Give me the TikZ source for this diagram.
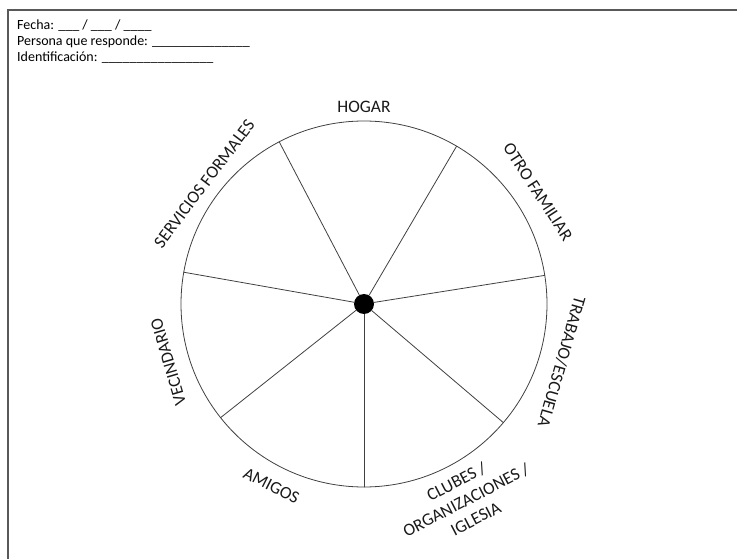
\documentclass[tikz,border=0pt]{standalone}
\usepackage{fontspec}
\setmainfont{Carlito}
\usepackage{tikz}

\tikzset{
  sector/.style={font=\fontsize{17.5}{21}\selectfont, text=black!90, align=center, inner sep=1pt},
  wheel/.style={black!75, line width=0.8pt},
  formline/.style={anchor=base west, inner sep=0pt, font=\fontsize{14}{16}\selectfont},
}

\begin{document}
\begin{tikzpicture}[x=1pt, y=1pt, line cap=round]
  \useasboundingbox (0,0) rectangle (737,558);
  \draw[line width=2pt, black!65] (8,-10) rectangle (750,548);
  \node[formline] (fecha) at (17,528) {Fecha: \_\_\_ / \_\_\_ / \_\_\_\_};
  \node[formline] (persona) at (17,512) {Persona que responde: \_\_\_\_\_\_\_\_\_\_\_\_\_\_};
  \node[formline] (ident) at (17,496) {Identificación: \_\_\_\_\_\_\_\_\_\_\_\_\_\_\_\_};
  \begin{scope}[shift={(364,254)}]
    \draw[wheel] (0,0) circle (183pt);
    \node[circle, fill=black, minimum size=20pt, inner sep=0pt] (hub) at (0,0) {};
    \foreach \a [count=\i] in {9, 59.6, 117.6, 170, 218.4, 270, 319.6}
      { \coordinate (rim\i) at (\a:183); \draw[wheel] (hub) -- (rim\i); }
    \node[sector] (hogar) at (90:197) {HOGAR};
    \node[sector, rotate=-57] (familiar) at (32.8:207) {OTRO FAMILIAR};
    \node[sector, rotate=-106] (trabajo) at (-16.3:206) {TRABAJO/ESCUELA};
    \node[sector, rotate=27.5] (clubes) at (-62.5:221) {CLUBES /\\ ORGANIZACIONES /\\ IGLESIA};
    \node[sector, rotate=-27] (amigos) at (243:204) {AMIGOS};
    \node[sector, rotate=106.5] (vecindario) at (196.5:204) {VECINDARIO};
    \node[sector, rotate=53] (servicios) at (143:200) {SERVICIOS FORMALES};
  \end{scope}
\end{tikzpicture}
\end{document}
